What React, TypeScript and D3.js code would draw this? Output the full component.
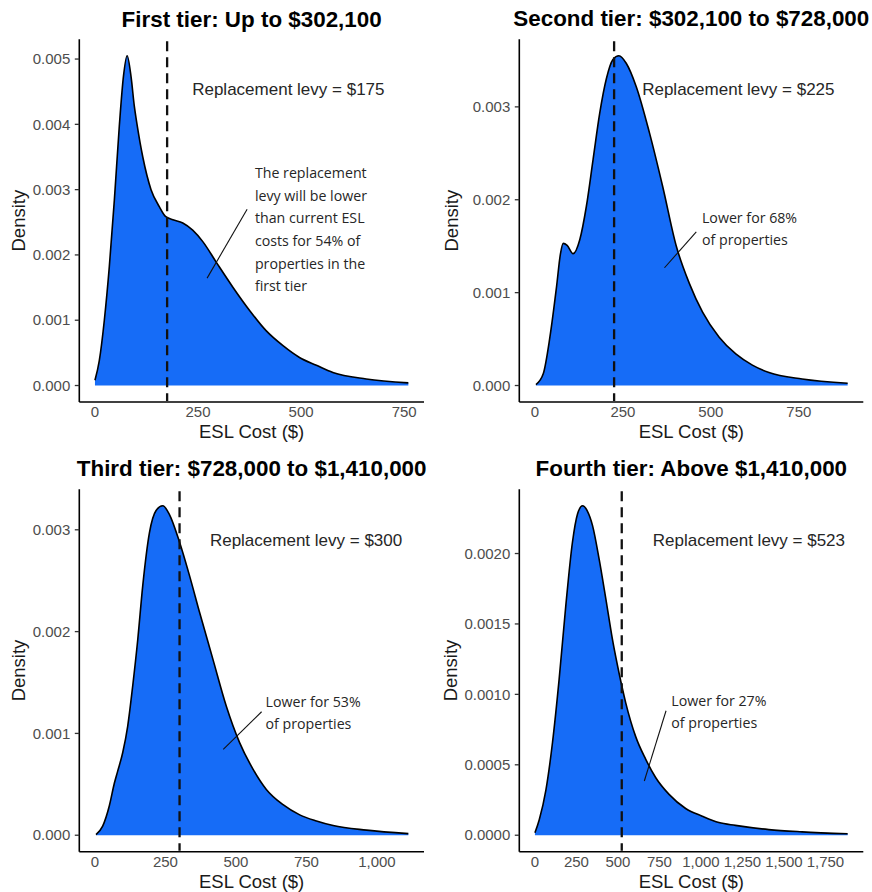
import React from "react";
import * as d3 from "d3";

// ---------- DATA ----------
const panelTitles = [
  "First tier: Up to $302,100",
  "Second tier: $302,100 to $728,000",
  "Third tier: $728,000 to $1,410,000",
  "Fourth tier: Above $1,410,000",
];

const levyValues = [175, 225, 300, 523];
const levyLabels = [
  "Replacement levy = $175",
  "Replacement levy = $225",
  "Replacement levy = $300",
  "Replacement levy = $523",
];

const noteTexts = [
  ["The replacement", "levy will be lower", "than current ESL", "costs for 54% of", "properties in the", "first tier"],
  ["Lower for 68%", "of properties"],
  ["Lower for 53%", "of properties"],
  ["Lower for 27%", "of properties"],
];

// density curves (ESL cost in $, density)
const tier1Cost = [0, 10.5, 22.7, 34.8, 47, 59, 69, 78, 87.5, 95.6, 102, 116, 136, 156, 171, 189, 213, 237, 262, 294, 334, 375, 415, 456, 496, 537, 577, 658, 760];
const tier1Density = [0.00008, 0.00038, 0.001, 0.00182, 0.00284, 0.00397, 0.00473, 0.00505, 0.00473, 0.00427, 0.004, 0.0035, 0.003, 0.00274, 0.00259, 0.00254, 0.00249, 0.00238, 0.0022, 0.00189, 0.00151, 0.00115, 0.00084, 0.00061, 0.00043, 0.00031, 0.0002, 0.0001, 0.00004];

const tier2Cost = [2.8, 23.6, 42.5, 61.3, 72.6, 80.2, 91.5, 108.5, 127.4, 146.2, 165.1, 184, 202.8, 221.7, 238.7, 259.4, 287.7, 325.5, 363.2, 401, 438.7, 476.4, 523.6, 570.8, 617.9, 665.1, 759.4, 888.7];
const tier2Density = [0.00001, 0.000126, 0.00052, 0.00106, 0.00142, 0.00153, 0.00151, 0.00142, 0.00157, 0.00193, 0.00243, 0.00293, 0.0033, 0.00351, 0.00355, 0.00347, 0.00322, 0.00272, 0.00214, 0.00151, 0.0011, 0.00079, 0.00052, 0.00034, 0.00022, 0.00014, 0.00007, 0.000025];

const tier3Cost = [3.6, 27.3, 51, 68.7, 80.6, 98.3, 116, 134, 151.7, 169.4, 193.1, 216.8, 240.5, 264.2, 299.8, 335.3, 370.9, 418.2, 465.6, 513, 560.4, 607.8, 667.1, 726.3, 785.5, 844.8, 963.3, 1111.4];
const tier3Density = [0.000007, 0.00009, 0.00029, 0.00051, 0.00063, 0.00081, 0.00107, 0.00147, 0.00192, 0.00245, 0.00297, 0.00319, 0.003236, 0.00315, 0.00288, 0.00255, 0.00219, 0.00173, 0.00127, 0.00091, 0.00065, 0.00045, 0.0003, 0.0002, 0.00014, 0.000095, 0.00005, 0.000016];

const tier4Cost = [0, 26, 66, 106, 146, 186, 226, 256.5, 286.6, 316.6, 346.7, 386.8, 426.9, 467, 507, 547, 607, 667, 727, 808, 908, 1008, 1108, 1208, 1409, 1609, 1884];
const tier4Density = [0.000017, 0.00011, 0.00032, 0.00066, 0.00111, 0.00163, 0.00208, 0.00228, 0.002339, 0.0023, 0.0022, 0.00196, 0.00168, 0.00139, 0.00115, 0.00094, 0.0007, 0.00054, 0.00041, 0.00029, 0.00019, 0.000135, 0.00009, 0.00007, 0.00004, 0.000024, 0.00001];

const xTicks12 = [0, 250, 500, 750];
const xTicks3 = [0, 250, 500, 750, 1000];
const xTicks4 = [0, 250, 500, 750, 1000, 1250, 1500, 1750];
const yTicks1 = [0, 0.001, 0.002, 0.003, 0.004, 0.005];
const yTicks23 = [0, 0.001, 0.002, 0.003];
const yTicks4 = [0, 0.0005, 0.001, 0.0015, 0.002];

// ---------- LAYOUT ----------
const W = 872;
const H = 892;
const FILL = "#166cf7";

const layouts = [
  { left: 79.3, right: 424, top: 39.3, bottom: 402, titleY: 27, yTitleX: 19 },
  { left: 519.3, right: 863.3, top: 39.3, bottom: 402, titleY: 26, yTitleX: 451.5 },
  { left: 79.3, right: 424, top: 489.3, bottom: 851.7, titleY: 475.5, yTitleX: 19 },
  { left: 519.3, right: 863.3, top: 489.3, bottom: 851.7, titleY: 476, yTitleX: 451 },
];

// annotation anchor points in data units
const levyLabelAt = [
  [235.8, 0.00445],
  [304.8, 0.003128],
  [407.7, 0.00284],
  [709.6, 0.002053],
];
const noteAt = [
  [388, 0.003175],
  [474.7, 0.00175],
  [605, 0.001262],
  [821.7, 0.000917],
];
const leaderFrom = [
  [369, 0.0027],
  [458.5, 0.001653],
  [591, 0.001213],
  [789.8, 0.000884],
];
const leaderTo = [
  [272, 0.001645],
  [368.2, 0.001268],
  [455, 0.000844],
  [659, 0.000385],
];
const noteLineGap = [22.6, 22, 22, 21.7];

const series = [
  { cost: tier1Cost, dens: tier1Density, xTicks: xTicks12, yTicks: yTicks1, yFmt: ".3f" },
  { cost: tier2Cost, dens: tier2Density, xTicks: xTicks12, yTicks: yTicks23, yFmt: ".3f" },
  { cost: tier3Cost, dens: tier3Density, xTicks: xTicks3, yTicks: yTicks23, yFmt: ".3f" },
  { cost: tier4Cost, dens: tier4Density, xTicks: xTicks4, yTicks: yTicks4, yFmt: ".4f" },
];

function Panel({ i }: { i: number }) {
  const L = layouts[i];
  const s = series[i];
  const xMin = 0;
  const xMax = d3.max(s.cost) as number;
  const yMax = d3.max(s.dens) as number;
  const xPad = (xMax - xMin) * 0.05;
  const yPad = yMax * 0.05;
  const x = d3.scaleLinear().domain([xMin - xPad, xMax + xPad]).range([L.left, L.right]);
  const y = d3.scaleLinear().domain([-yPad, yMax + yPad]).range([L.bottom, L.top]);
  const pts: [number, number][] = s.cost.map((c, k) => [c, s.dens[k]]);
  const area = d3
    .area<[number, number]>()
    .x((d) => x(d[0]))
    .y0(() => y(0))
    .y1((d) => y(d[1]))
    .curve(d3.curveMonotoneX);
  const line = d3
    .line<[number, number]>()
    .x((d) => x(d[0]))
    .y((d) => y(d[1]))
    .curve(d3.curveMonotoneX);
  const fmtY = d3.format(s.yFmt);
  const fmtX = d3.format(",");
  const cx = (L.left + L.right) / 2;
  const cy = (L.top + L.bottom) / 2;
  const levyX = x(levyValues[i]);

  return (
    <g>
      <text
        x={cx}
        y={L.titleY}
        textAnchor="middle"
        fontFamily="'Liberation Sans', Arial, sans-serif"
        fontWeight="bold"
        fontSize={22.4}
        fill="#000"
      >
        {panelTitles[i]}
      </text>
      <path d={area(pts) || ""} fill={FILL} stroke="none" />
      <path d={line(pts) || ""} fill="none" stroke="#000" strokeWidth={1.6} />
      <line
        x1={levyX}
        x2={levyX}
        y1={L.top + 2}
        y2={L.bottom - 1}
        stroke="#111"
        strokeWidth={2.3}
        strokeDasharray="10,6"
      />
      {/* axes */}
      <line x1={L.left} x2={L.left} y1={L.top} y2={L.bottom} stroke="#000" strokeWidth={1.6} />
      <line x1={L.left} x2={L.right} y1={L.bottom} y2={L.bottom} stroke="#000" strokeWidth={1.6} />
      {s.yTicks.map((t) => (
        <g key={"y" + t}>
          <line x1={L.left - 4.5} x2={L.left} y1={y(t)} y2={y(t)} stroke="#333" strokeWidth={1.3} />
          <text
            x={L.left - 9}
            y={y(t)}
            dy="0.35em"
            textAnchor="end"
            fontFamily="'Liberation Sans', Arial, sans-serif"
            fontSize={15}
            fill="#4d4d4d"
          >
            {fmtY(t)}
          </text>
        </g>
      ))}
      {s.xTicks.map((t) => (
        <text
          key={"x" + t}
          x={x(t)}
          y={L.bottom + 15}
          textAnchor="middle"
          fontFamily="'Liberation Sans', Arial, sans-serif"
          fontSize={15}
          fill="#4d4d4d"
        >
          {fmtX(t)}
        </text>
      ))}
      <text
        x={cx}
        y={L.bottom + 36}
        textAnchor="middle"
        fontFamily="'Liberation Sans', Arial, sans-serif"
        fontSize={18.5}
        fill="#1a1a1a"
      >
        ESL Cost ($)
      </text>
      <text
        transform={`translate(${L.yTitleX + 6.3},${cy}) rotate(-90)`}
        textAnchor="middle"
        fontFamily="'Liberation Sans', Arial, sans-serif"
        fontSize={18.5}
        fill="#1a1a1a"
      >
        Density
      </text>
      {/* annotations */}
      <text
        x={x(levyLabelAt[i][0])}
        y={y(levyLabelAt[i][1])}
        fontFamily="'Liberation Sans', Arial, sans-serif"
        fontSize={17}
        fill="#262626"
      >
        {levyLabels[i]}
      </text>
      <line
        x1={x(leaderFrom[i][0])}
        y1={y(leaderFrom[i][1])}
        x2={x(leaderTo[i][0])}
        y2={y(leaderTo[i][1])}
        stroke="#111"
        strokeWidth={1.1}
      />
      <text
        fontFamily="'Open Sans', 'Noto Sans', sans-serif"
        fontSize={14.2}
        fill="#262626"
      >
        {noteTexts[i].map((ln, k) => (
          <tspan key={k} x={x(noteAt[i][0])} y={y(noteAt[i][1]) + k * noteLineGap[i]}>
            {ln}
          </tspan>
        ))}
      </text>
    </g>
  );
}

export default function App() {
  return (
    <svg
      width={W}
      height={H}
      viewBox={`0 0 ${W} ${H}`}
      style={{ position: "absolute", left: 0, top: 0, background: "#fff" }}
    >
      <rect x={0} y={0} width={W} height={H} fill="#fff" />
      {[0, 1, 2, 3].map((i) => (
        <Panel key={i} i={i} />
      ))}
    </svg>
  );
}
